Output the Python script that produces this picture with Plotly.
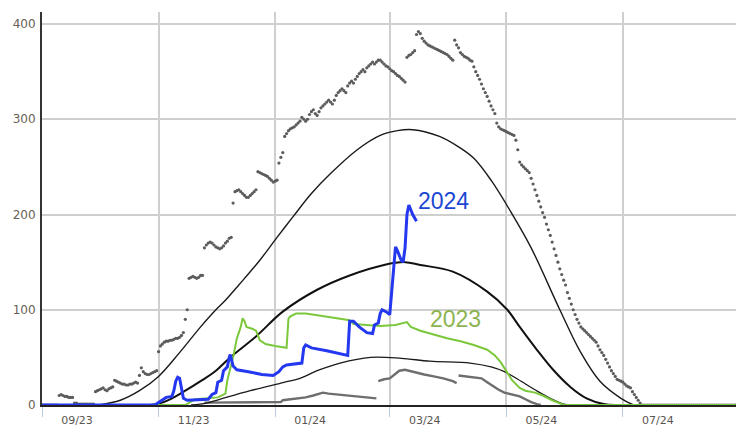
import pandas as pd
import plotly.graph_objects as go

START = pd.Timestamp("2023-09-01")

# ---- data (days counted from START) ----
tick_dates = ["2023-09-01", "2023-11-01", "2024-01-01", "2024-03-01", "2024-05-01", "2024-07-01"]
tick_labels = ["09/23", "11/23", "01/24", "03/24", "05/24", "07/24"]

# daily record-high values (dots), one value per day from START
max_vals = (
    [0, 0, 0, 0, 0, 0, 0, 0, 0]
    + [10, 11, 10, 9, 9, 8, 8, 8]
    + [2, 2, 1, 1, 1, 1, 1, 1, 1, 1, 1]
    + [14, 15, 16, 17, 18, 16, 15, 17, 18]
    + [19, 26, 25, 24, 23, 22, 22, 21, 21, 22, 22, 23, 24, 23]
    + [31, 39, 35, 33, 32, 32, 33, 34, 35, 36]
    + [56, 62, 64, 66, 67, 67, 68, 68, 69, 70, 70, 71, 73, 76]
    + [90, 100]
    + [133, 134, 135, 134, 133, 134, 136, 136]
    + [165, 168, 170, 171, 170, 168, 166, 165, 164, 165, 167, 170, 172, 175, 176]
    + [212]
    + [224, 225, 226, 224, 222, 220, 218, 218, 220, 222, 224, 226]
    + [245, 244, 243, 242, 241, 240, 238, 236, 234, 235, 236]
    + [254, 260, 265]
    + [282, 285, 288, 290, 291, 292, 294, 296, 298]
    + [302, 300, 298, 300, 305, 308, 310, 306, 304, 308]
    + [312, 314, 316, 318, 320, 318, 316, 320, 325, 328]
    + [330, 332, 330, 328, 335, 338, 340, 338, 342, 345]
    + [348, 350, 352, 350, 354, 356, 358, 360, 358, 360, 362]
    + [362, 360, 358, 356, 355, 353, 351, 350, 348, 346, 345, 343, 341, 339]
    + [365, 367, 368, 370, 372]
    + [389, 392, 390]
    + [385, 382, 380, 378, 377, 376, 375, 374, 373, 372, 371, 370, 369, 368, 366, 364, 362]
    + [383, 378, 375]
    + [370, 368, 366, 365, 364, 362, 361]
    + [355, 350, 346, 342, 337, 332, 328, 324, 319, 314, 310, 306]
    + [296, 292, 290, 289, 288, 287, 286, 285, 284, 283]
    + [278, 268]
    + [255, 252, 250, 248, 246, 244]
    + [238, 232, 226, 220, 214, 208, 202, 197]
    + [190, 184, 178, 171, 164, 157, 150, 143, 137, 131, 126]
    + [118, 112, 106, 100, 95, 90, 86]
    + [82, 80, 78, 76, 74, 72, 70, 68, 66]
    + [62, 58, 55, 52, 48, 44, 40, 36, 33, 30]
    + [27, 26, 25, 24, 22, 20, 19, 18]
    + [14, 11, 8, 5, 2]
    + [0] * 50
)

# record-low line (None = break)
min_days = [85, 100, 125, 126, 134, 138, 142, 145, 147, 150, 155, 160, 165, 170, 175, 175.5,
            176, 179, 182, 185, 187, 190, 192, 195, 200, 205, 210, 215, 217, 217.5,
            218, 222, 226, 230, 233, 236, 239, 242, 246, 250, 253, 256, 259, 261]
min_vals = [2.5, 2.5, 3, 5, 7, 8, 10, 12, 13, 12, 11, 10, 9, 8, 7, None,
            25, 27, 28, 33, 36, 37, 36, 34, 32, 30, 28, 25, 23, None,
            31, 30, 29, 28, 24, 20, 16, 13, 11, 9, 6, 3, 1, 0]

# percentile curves
hi_days = [30, 41, 51, 61, 72, 83, 91, 96, 103, 114, 123, 131.5, 141, 151, 165, 177, 186, 194,
           208, 218, 226, 235, 245, 256, 271, 282, 292, 303, 309.5]
hi_vals = [0, 5, 15, 30, 55, 82, 100, 110, 126, 152, 176, 198, 222, 243, 268, 283, 288, 289,
           282, 271, 259, 236, 204, 165, 100, 55, 25, 7, 0]

med_days = [56.7, 62, 67, 75, 83, 91, 98.5, 112, 126, 144, 161, 179, 190, 198, 215, 233, 243.5,
            250, 259, 267.5, 276.5, 285, 294, 300]
med_vals = [0, 2, 6, 15, 25, 36, 50, 72, 98, 121, 136, 147, 150, 147, 140, 119, 100,
            82, 58, 37, 19, 7, 1, 0]

lo_days = [78, 86, 93, 109, 125, 135, 144, 156, 172, 188, 203, 224, 235, 242, 249, 258, 266, 273, 277]
lo_vals = [0, 2, 6, 15, 23, 28, 36, 44, 50, 49, 46, 44, 40, 35, 27, 16, 7, 1, 0]

# 2023 season
y2023_days = [0, 75, 80, 88, 92, 96, 97, 100, 102, 104, 105, 106, 107, 110, 112, 114, 117, 122, 128,
              129, 130, 133, 138, 145, 155, 161, 163, 170, 177, 185, 191, 193, 198, 205, 212, 219,
              226, 233, 237, 240, 243, 246, 250, 253, 258, 262, 267, 273, 363]
y2023_vals = [0, 0, 6, 7, 8, 12, 26, 50, 70, 82, 91, 88, 82, 80, 78, 68, 64, 62, 60,
              91, 93, 96, 96, 94, 91, 89, 85, 84, 83, 84, 87, 82, 78, 74, 70, 67,
              63, 58, 52, 45, 35, 26, 18, 15, 13, 10, 5, 0, 0]

# 2024 season
y2024_days = [0, 59, 62, 65, 68, 69, 70, 71, 72, 73, 74, 76, 87, 89, 91, 92, 94, 95, 97, 98, 98.5,
              100, 102, 108, 115, 121, 124, 126, 128, 136, 137, 138, 141, 149, 159, 160, 161, 163,
              166, 170, 173, 174, 176, 177, 178, 180, 182, 183, 184, 185, 186, 188, 189, 190, 191,
              192, 193, 194, 196]
y2024_vals = [0, 0, 4, 8, 9, 15, 25, 29, 28, 18, 7, 5, 6, 11, 13, 24, 26, 36, 40, 50, 53,
              41, 37, 35, 32, 31, 35, 40, 42, 44, 60, 63, 60, 57, 53, 52, 88, 88,
              82, 76, 75, 84, 86, 96, 100, 98, 95, 120, 150, 166, 162, 152, 150, 165, 200,
              210, 205, 200, 193]


def to_dates(days):
    return [START + pd.Timedelta(days=d) for d in days]


max_dates = [START + pd.Timedelta(days=i) for i in range(len(max_vals))]

fig = go.Figure()

fig.add_trace(go.Scatter(x=max_dates, y=max_vals, mode="markers",
                         marker=dict(size=3.2, color="#5c5c5c"), hoverinfo="skip"))
fig.add_trace(go.Scatter(x=to_dates(min_days), y=min_vals, mode="lines",
                         line=dict(color="#6e6e6e", width=2.4), connectgaps=False, hoverinfo="skip"))
fig.add_trace(go.Scatter(x=to_dates(hi_days), y=hi_vals, mode="lines",
                         line=dict(color="#1a1a1a", width=1.4, shape="spline", smoothing=1.0)))
fig.add_trace(go.Scatter(x=to_dates(med_days), y=med_vals, mode="lines",
                         line=dict(color="#111111", width=2, shape="spline", smoothing=1.0)))
fig.add_trace(go.Scatter(x=to_dates(lo_days), y=lo_vals, mode="lines",
                         line=dict(color="#1a1a1a", width=1.3, shape="spline", smoothing=1.0)))
fig.add_trace(go.Scatter(x=to_dates(y2023_days), y=y2023_vals, mode="lines",
                         line=dict(color="#7cc83c", width=2)))
fig.add_trace(go.Scatter(x=to_dates(y2024_days), y=y2024_vals, mode="lines",
                         line=dict(color="#2438f0", width=3)))

fig.add_annotation(x=START + pd.Timedelta(days=195.8), y=214, text="2024", showarrow=False,
                   xanchor="left", yanchor="middle",
                   font=dict(family="Liberation Sans, Arial", size=23, color="#1a47d4"))
fig.add_annotation(x=START + pd.Timedelta(days=202.2), y=90, text="2023", showarrow=False,
                   xanchor="left", yanchor="middle",
                   font=dict(family="Liberation Sans, Arial", size=23, color="#8db350"))

fig.update_layout(
    width=736, height=428,
    margin=dict(l=42, r=0, t=12, b=23),
    paper_bgcolor="white", plot_bgcolor="white",
    showlegend=False,
    font=dict(family="DejaVu Sans", size=12, color="#555555"),
)
fig.update_xaxes(
    type="date", automargin=False,
    range=[START, START + pd.Timedelta(days=363.2)],
    tickvals=tick_dates, ticktext=tick_labels,
    ticklabelshift=35, ticklabelstandoff=-6,
    ticks="outside", ticklen=10, tickcolor="#b9cbe6", tickwidth=1,
    showgrid=True, gridcolor="#cfcfcf", gridwidth=1.5,
    showline=True, linecolor="#222222", linewidth=2,
    zeroline=False,
    tickfont=dict(family="DejaVu Sans", size=11, color="#5a5550"),
)
fig.update_yaxes(
    automargin=False,
    range=[0, 412.6],
    tickvals=[0, 100, 200, 300, 400],
    showgrid=True, gridcolor="#cfcfcf", gridwidth=1.5,
    showline=True, linecolor="#333333", linewidth=2,
    zeroline=False, ticks="", ticklabelstandoff=2,
    tickfont=dict(family="DejaVu Sans", size=12, color="#6a5f55"),
)

fig.write_html("out.html", config={"displayModeBar": False},
               post_script="document.body.style.margin='0';")
